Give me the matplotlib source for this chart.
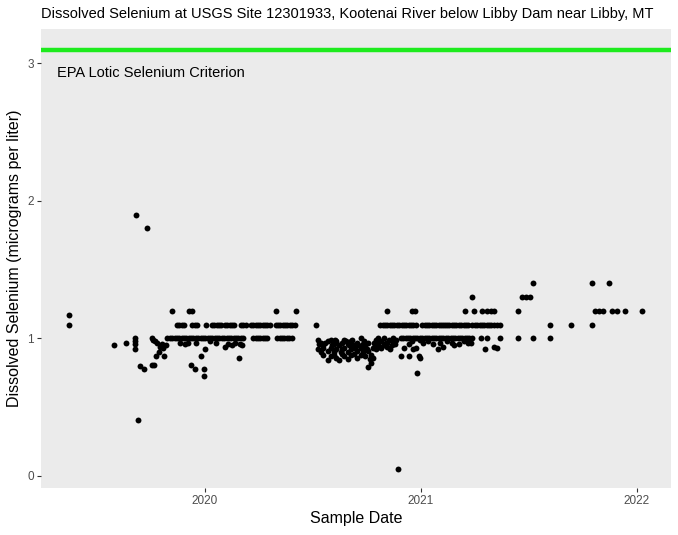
import matplotlib
matplotlib.use("Agg")
import matplotlib.pyplot as plt
import matplotlib.dates as mdates
import pandas as pd

plt.rcParams['font.family'] = ['Liberation Sans', 'DejaVu Sans']

# samples reported at 1.0 ug/L
dates_10 = """
2019-10-30 2019-11-03 2019-11-07 2019-11-11 2019-11-15 2019-11-19 2019-11-23 2019-11-27
2019-12-01 2019-12-05 2019-12-09 2019-12-13 2019-12-17 2019-12-21 2019-12-25 2019-12-29
2020-01-02 2020-01-06 2020-01-10 2020-01-14 2020-01-18 2020-01-22 2020-01-26 2020-01-30
2020-02-03 2020-02-07 2020-02-11 2020-02-15 2020-02-19 2020-02-23 2020-02-27 2020-03-02
2020-03-06 2020-03-23 2020-03-27 2020-03-31 2020-04-04 2020-04-08 2020-04-12 2020-04-16
2020-05-03 2020-05-07 2020-05-11 2020-05-15 2020-05-19 2020-05-23 2020-05-27
2020-11-28 2020-12-02 2020-12-06 2020-12-10 2020-12-14 2020-12-18 2020-12-22 2020-12-26
2020-12-30 2021-01-03 2021-01-07 2021-01-11 2021-01-15 2021-01-19 2021-01-23 2021-01-27
2021-01-31 2021-02-04 2021-02-08 2021-02-12 2021-02-16 2021-02-20 2021-02-24 2021-02-28
2021-03-04 2021-03-08 2021-03-12 2021-03-16 2021-03-20 2021-03-24 2021-03-28
2021-04-13 2021-04-23 2021-05-15 2021-06-14 2021-07-10 2021-08-08
""".split()

# samples reported at 1.1 ug/L
dates_11 = """
2019-11-15 2019-11-19 2019-11-23 2019-11-27 2019-12-11 2019-12-15 2019-12-19
2020-01-04 2020-01-13 2020-01-17 2020-01-21 2020-01-25 2020-01-28 2020-02-04 2020-02-08
2020-02-12 2020-02-16 2020-02-20 2020-03-02 2020-03-06 2020-03-11 2020-03-19 2020-03-23
2020-03-27 2020-03-31 2020-04-04 2020-04-08 2020-04-12 2020-04-16 2020-04-20 2020-04-30
2020-05-04 2020-05-08 2020-05-12 2020-05-16 2020-05-20 2020-05-24 2020-05-28 2020-06-01
2020-07-08 2020-10-24 2020-10-28 2020-11-01 2020-11-05 2020-11-09 2020-11-13 2020-11-17
2020-11-21 2020-11-25 2020-11-29 2020-12-03 2020-12-07 2020-12-11 2020-12-15 2020-12-19
2020-12-23 2021-01-03 2021-01-07 2021-01-11 2021-01-15 2021-01-19 2021-01-23 2021-01-27
2021-01-31 2021-02-04 2021-02-08 2021-02-11 2021-02-14 2021-02-18 2021-02-22 2021-02-26
2021-03-02 2021-03-06 2021-03-10 2021-03-14 2021-03-18 2021-03-22 2021-03-29 2021-04-02
2021-04-06 2021-04-10 2021-04-14 2021-04-18 2021-04-22 2021-04-26 2021-04-30 2021-05-04
2021-05-09 2021-05-15 2021-08-08 2021-09-12 2021-10-17
""".split()

# samples reported at 1.2 ug/L
dates_12 = """
2019-11-06 2019-12-05 2019-12-11 2020-05-01 2020-06-04 2020-11-05 2020-12-17 2020-12-21
2021-03-16 2021-04-01 2021-04-15 2021-04-22 2021-04-29 2021-05-04 2021-06-14 2021-10-22
2021-10-29 2021-11-05 2021-11-21 2021-11-28 2021-12-12 2022-01-10
""".split()

# samples reported at 1.3 and 1.4 ug/L
dates_13 = ["2021-03-29", "2021-06-21", "2021-06-27", "2021-07-05"]
dates_14 = ["2021-07-10", "2021-10-18", "2021-11-15"]

# all other samples
other_dates = """
2019-05-17 2019-05-17 2019-07-31 2019-08-21 2019-09-05 2019-09-05 2019-09-05 2019-09-05
2019-09-06 2019-09-10 2019-09-14 2019-09-20 2019-09-25 2019-10-03 2019-10-04 2019-10-06
2019-10-08 2019-10-09 2019-10-11 2019-10-13 2019-10-16 2019-10-18 2019-10-21 2019-10-23
2019-10-24 2019-10-27 2019-11-20 2019-11-28 2019-12-03 2019-12-08 2019-12-15 2019-12-18
2019-12-25 2019-12-30 2019-12-31 2020-01-01 2020-01-10 2020-01-20 2020-02-04 2020-02-10
2020-02-17 2020-02-22 2020-02-28 2020-03-01 2020-03-04
2020-07-10 2020-07-10 2020-07-15 2020-07-15 2020-07-20 2020-07-20 2020-07-20
2020-07-27 2020-07-27 2020-07-27 2020-08-01 2020-08-01 2020-08-01 2020-08-06 2020-08-06
2020-08-06 2020-08-11 2020-08-11 2020-08-11 2020-08-15 2020-08-15 2020-08-20 2020-08-20
2020-08-20 2020-08-24 2020-08-24 2020-08-24 2020-08-30 2020-08-30 2020-08-30 2020-09-04
2020-09-04 2020-09-04 2020-09-09 2020-09-09 2020-09-14 2020-09-14 2020-09-14 2020-09-21
2020-09-21 2020-09-21 2020-09-24 2020-09-24 2020-09-29 2020-09-29 2020-10-04 2020-10-04
2020-10-04 2020-10-08 2020-10-08 2020-10-11 2020-10-11 2020-10-16 2020-10-16 2020-10-16
2020-10-21 2020-10-21 2020-10-26 2020-10-26 2020-10-31 2020-10-31 2020-11-05 2020-11-05
2020-11-10 2020-11-15 2020-11-15 2020-11-20 2020-11-23 2020-11-28 2020-12-03 2020-12-11
2020-12-11 2020-12-16 2020-12-19 2020-12-23 2020-12-25 2020-12-28 2020-12-31 2020-12-31
2021-01-05 2021-01-13 2021-01-21 2021-01-29 2021-02-02 2021-02-07 2021-02-14 2021-02-22
2021-02-26 2021-03-06 2021-03-14 2021-03-22 2021-03-27 2021-04-19 2021-05-04 2021-05-09
2020-07-12 2020-07-23 2020-08-04 2020-08-09 2020-08-18 2020-08-27 2020-09-02 2020-09-07
2020-09-12 2020-09-17 2020-09-27 2020-10-01 2020-10-06 2020-10-13 2020-10-19 2020-10-24
2020-11-02 2020-11-08 2020-11-13 2020-11-18
""".split()

other_values = [
    1.17, 1.10, 0.95, 0.97, 1.00, 0.98, 0.96, 0.92,
    1.90, 0.41, 0.80, 0.78, 1.80, 1.00, 0.81, 0.99,
    0.81, 0.98, 0.87, 0.97, 0.90, 0.94, 0.96, 0.93,
    0.87, 0.95, 0.97, 0.96, 0.97, 0.81, 0.78, 0.97,
    0.87, 0.78, 0.73, 0.92, 0.98, 0.97, 0.94, 0.96,
    0.95, 0.97, 0.86, 0.96, 0.95,
    0.99, 0.92, 0.97, 0.90, 0.95, 0.88, 0.93,
    0.84, 0.91, 0.98, 0.99, 0.93, 0.87, 0.96, 0.90,
    0.88, 0.98, 0.92, 0.86, 0.84, 0.95, 0.97, 0.89,
    0.92, 0.99, 0.93, 0.87, 0.96, 0.90, 0.85, 0.98,
    0.92, 0.88, 0.95, 0.89, 0.97, 0.91, 0.86, 1.00,
    0.93, 0.88, 0.96, 0.90, 0.94, 0.87, 0.79, 0.91,
    0.97, 0.82, 0.88, 0.86, 0.93, 0.99, 0.95, 0.92,
    1.00, 0.96, 0.98, 0.93, 1.00, 0.95, 0.97, 0.94,
    0.92, 1.00, 0.98, 0.99, 0.05, 0.87, 0.93, 0.87,
    0.96, 0.98, 0.92, 0.93, 0.75, 0.87, 0.86, 0.99,
    0.97, 0.98, 0.96, 0.92, 0.97, 0.94, 0.98, 0.97,
    0.95, 0.96, 0.98, 0.97, 0.97, 0.92, 0.94, 0.93,
    0.96, 0.97, 0.95, 0.99, 0.90, 0.98, 0.95, 0.99,
    0.93, 0.95, 0.98, 0.92, 0.85, 0.97, 0.98, 0.94,
    0.97, 0.99, 0.95, 0.96,
]

criterion = 3.1
criterion_label = "EPA Lotic Selenium Criterion"

# build one table of samples
frames = [pd.DataFrame({"date": other_dates, "se": other_values})]
for lvl, dl in [(1.0, dates_10), (1.1, dates_11), (1.2, dates_12), (1.3, dates_13), (1.4, dates_14)]:
    frames.append(pd.DataFrame({"date": dl, "se": lvl}))
df = pd.concat(frames, ignore_index=True)
df["date"] = pd.to_datetime(df["date"])

fig = plt.figure(figsize=(6.78, 5.35), dpi=100)
ax = fig.add_axes([41 / 678, 1 - 488 / 535, 630 / 678, 459 / 535])
ax.set_facecolor("#EBEBEB")

ax.axhline(criterion, color="#1EEB1E", linewidth=3.2, zorder=2)
ax.scatter(df["date"], df["se"], s=18, color="black", linewidths=0, zorder=3)
ax.text(pd.Timestamp("2019-04-26"), 2.93, criterion_label, ha="left", va="center",
        fontsize=10.5, color="black")

ax.set_xlim(pd.Timestamp("2019-03-30"), pd.Timestamp("2022-02-28"))
ax.set_ylim(-0.088, 3.25)
ax.set_yticks([0, 1, 2, 3])
ax.xaxis.set_major_locator(mdates.YearLocator())
ax.xaxis.set_major_formatter(mdates.DateFormatter("%Y"))

for s in ax.spines.values():
    s.set_visible(False)
ax.tick_params(axis="both", colors="#333333", labelcolor="#4D4D4D", labelsize=8.5,
               length=3, width=0.8, pad=2)

ax.set_xlabel("Sample Date", fontsize=11.5, labelpad=3)
ax.set_ylabel("Dissolved Selenium (micrograms per liter)", fontsize=11.5, labelpad=4)
ax.set_title("Dissolved Selenium at USGS Site 12301933, Kootenai River below Libby Dam near Libby, MT",
             fontsize=10.5, loc="left", pad=8)

fig.savefig("out.png", dpi=100)
